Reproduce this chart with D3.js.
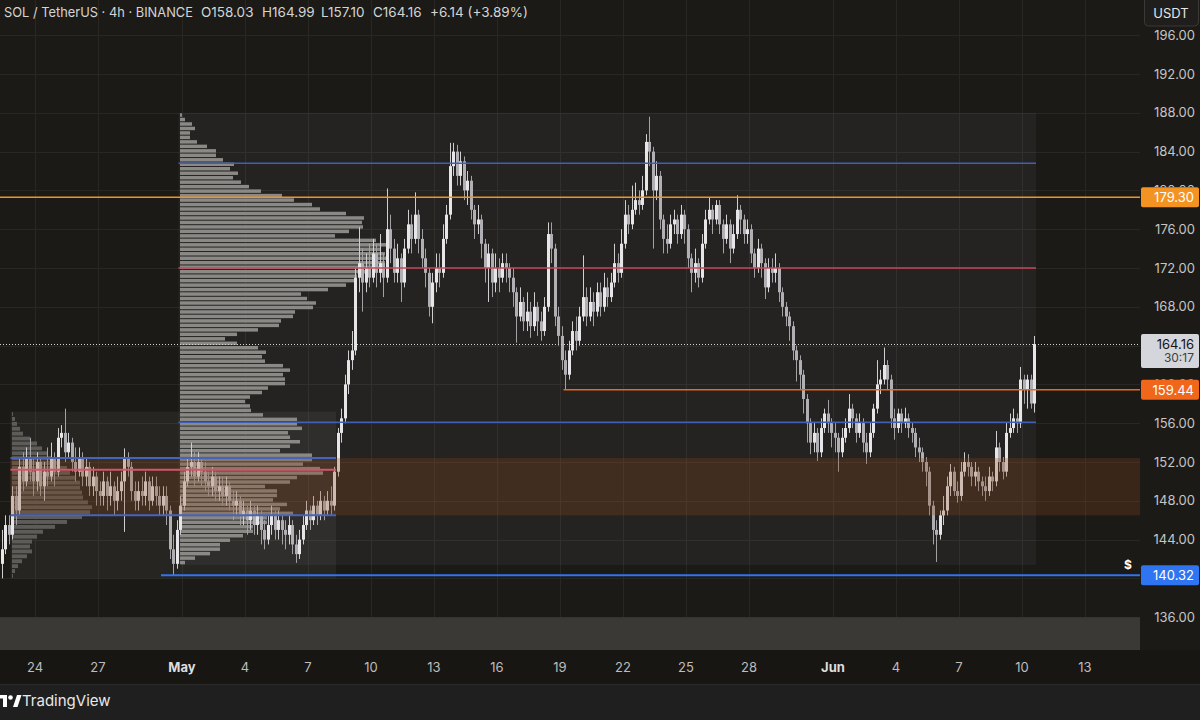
<!DOCTYPE html>
<html><head><meta charset="utf-8">
<script src="https://cdn.jsdelivr.net/npm/d3@7"></script>
<style>
html,body{margin:0;padding:0;background:#1b1a17;}
svg{display:block;font-family:Inter,"Noto Sans",sans-serif;}
</style></head><body>
<svg id="c" width="1200" height="720"></svg>
<script>
// ---------------- DATA ----------------
const titleText = "SOL / TetherUS · 4h · BINANCE";
const ohlcTexts = ["O158.03", "H164.99", "L157.10", "C164.16", "+6.14 (+3.89%)"];
const firstBarTime = "2025-04-22T08:00:00Z";   // 4h bars
const firstOpen = 141.5;
const closes = [
143,145.5,144.5,148.5,147,151.5,150,152.5,151,150,
152,149.5,151,150.5,152.5,151,154.5,155,153,154,
152,151,152.5,150.5,151.5,149.5,150.5,149,148.5,150,
148.5,149.5,148,149,150,152.5,151.5,149,148,149,
148.5,150,148,149.5,148.5,147.5,148.5,147,143,141.5,
145,147.5,150,151.5,152,150.5,152,151,150,149.5,
150.5,149,149.5,148.5,149.5,148,147.5,148,146.5,147,
146,147,145.5,146.5,145,144,145.5,146.5,145,146,
145,144.5,145.5,143.5,142.5,144,145.5,147,146,147.5,
146.5,148,147,148,147.5,151,155,156.5,160,162.5,
163.5,171,172.5,170.5,172,171,173.5,171.5,172.5,171,
176,174,171.5,173,170.5,174,176.5,175,177.5,175,
173,171.5,168,170.5,172,171.5,175,177.5,182.5,184,
181.5,183,180,181,178,176.5,177,174.5,172,173.5,
170.5,172,171,172.5,172,171,169.5,167,168.5,166.5,
167.5,166,168,166.5,165.5,168,175.5,174,167,165,
162.5,161,163.5,165.5,164.5,167,169,167,168.5,167.5,
169.5,168,170,169,170.5,172.5,171.5,174.5,177.5,176.5,
178,179,178.5,180,185,184,180,181.5,177,175,
174.5,176.5,177,175.5,177.5,176,173,171.5,172.5,171,
174.5,177,178,177,178.5,176.5,175,176.5,174,175.5,
178,177,175.5,176,173.5,172,174,172.5,170,172,
171.5,172,169.5,168,167,166,163.5,162.5,161,158.5,
156,154,155,153,155.5,157,156,155,154.5,153,
154.5,155.5,157.5,156.5,155,156,154,153,155,157.5,
160,160.5,162,160.5,156.5,155.5,157,156,156.5,155.5,
155,153.5,153,152,151,147.5,145,144.5,146.5,147,
149.5,151,149,148.5,151,152,151.5,150.5,151,150,
149.5,149,150.5,150,153.5,152,151,155,155.5,156.5,
156,160.5,159.5,160.5,158.03,164.16];
const highs = [
145,146.5,146.5,149.5,149.5,152.5,153,153.5,154.5,152.5,
153,152.5,152,153.5,154,153,155.5,155.8,157.5,155,
154.5,153.5,153.5,153,152.5,152,151.5,151,150,151,
150.5,151,150,150.5,151,153.4,153,152,150,150,
150.5,151,150.5,150.5,150.5,149.5,149.5,149.5,147.5,144.5,
146,148.5,151,152.5,154,153,153,152.5,152,151,
151.5,151,150.5,150.5,150.5,150,149,149,148.5,148,
147.5,148,147.5,147.5,147,146,146.5,147.5,147,147,
146.5,146,146.5,146,144.5,145,146.5,148,147.5,148.5,
148,149,148.5,149,149.5,151.5,155.5,157.5,161,163.5,
165.5,172,176.2,174,173.5,174.5,175,174.5,175.5,173.5,
180.2,177.5,175,174.5,173.5,175,178,177.5,179.8,178,
176,174,172,171.5,173.5,173.5,176.5,178.5,184.9,184.9,
184.7,184,183.5,182,181.5,178.5,178.5,177.5,175,174.5,
174,173.5,173,173.5,173.5,172.5,172,170,170,169,
169.5,168.5,169.5,168.5,167.5,169,176.7,176.7,174.5,168,
166,163.5,164.5,166.5,167,168,173.3,170,170,169.5,
170.5,170.5,171.5,171,171.5,174.5,173.5,176,179,178.5,
180.5,180.8,180,181.5,185.8,187.6,184.5,183,182,177.5,
176.5,177.5,178,177.5,178.5,178,176.5,173.5,174,173,
175.5,178,179.3,178.5,179,179,177,177.5,177,176.5,
179.5,178.5,177.5,177,176.5,174,175,174.5,173,173,
173,173.5,172.5,170,168.5,167.5,166.5,164,163,161.5,
159,156.5,156,155.5,156.5,157.5,158.4,156.5,156,155,
155.5,156.5,159,158,157,157,156.5,155,156,158,
162.5,161.5,163.8,162.5,161,157.5,157.5,157.5,157.6,157,
156,155.5,154.5,153.5,152.5,151.5,148,146,147,148.5,
150.5,151.8,151.5,150,152,153,152.8,152,152,151.5,
150.5,150.5,151.5,151,155.2,154,152.5,156,157,157.5,
157,161.8,161,161,161,164.99];
const lows = [
140,142.5,143.5,144,145.5,146.5,149,149.5,150,148.5,
149,148.5,148,149.5,150,149.5,150.5,153.5,152,152.5,
151,150,150.5,149.5,149.5,148.5,148.5,147.5,147.5,147.5,
147,147.5,146.5,147,148,144.8,150.5,148,147,147,
147.5,147.5,147,147.5,147.5,146.5,146.5,145.5,142,140.32,
141,144.5,147,149.5,150.5,149.5,150,149.5,149,148.5,
148.5,148,148,147.5,147.5,147,146,146.5,145.5,145.5,
144.5,145,144.5,144.5,143.5,143,143.5,144.5,144,144,
143.5,143,143.5,142.5,141.6,142,143.5,145,145,145.5,
145.5,146,146,146.5,146.5,147,150.5,154,156,159,
161.5,163,169.5,167.5,169.5,170,170.5,170,170.5,169,
170.5,172.5,170.5,170.5,168.5,170,173.5,173.5,174.5,173.5,
172,170,167,166.3,169.5,170,171,174.5,177,181.5,
180.5,180.5,179,178.5,177,175,175.5,173,170.5,168.5,
169,169.5,169.5,170.5,170.5,169.5,168,164.3,166.5,165.5,
165.5,164.8,165.5,165,164.5,165,167.5,172.5,166,164,
161.5,159.44,160.5,163,163.5,164,166.5,166,166.5,166,
167,167,167.5,168,168.5,170,170.5,171,174,175.5,
176,177.5,177.5,178,179.5,182.5,174,179,176,173.5,
173.5,174,175.5,174.5,175,174.5,172,169.5,170.5,170,
170.5,174,176.5,175.5,176.5,175.5,173.5,174.5,172.5,173.5,
175,175.5,174.5,174.5,172.5,171,171.5,171,168.8,169.5,
170.5,170.5,168.5,167,166,164.5,162.5,160.3,159.5,157,
154,152.8,153,152.1,152.5,155,155,153.5,153,151,
152.5,154,155,155.5,154,154.5,153,151.8,152.5,154.5,
157,159,160,159.5,155.5,154.3,155,155,155.5,154.5,
154,152.5,152,151,149.5,146.5,143.5,141.7,144,145.5,
146.5,148.5,148.5,147.8,148,150.5,150.5,149.5,149.5,149,
148.5,148,148.5,149,149.5,151,150.2,150.5,154.5,155,
155,155.5,158,157.5,157.5,157.10];

const priceTicks = [136,140,144,148,152,156,160,164,168,172,176,180,184,188,192,196];
const dateTicks = ["2025-04-24","2025-04-27","2025-05-01","2025-05-04","2025-05-07","2025-05-10","2025-05-13","2025-05-16","2025-05-19","2025-05-22","2025-05-25","2025-05-28","2025-06-01","2025-06-04","2025-06-07","2025-06-10","2025-06-13"];
const dateTickLabels = ["24","27","May","4","7","10","13","16","19","22","25","28","Jun","4","7","10","13"];
const monthLabels = ["May","Jun"];

// volume profile (relative volume per price row, top row first)
const mainVP = [2,5,12,15,10,10,17,27,36,36,43,54,50,58,53,61,69,81,102,114,
132,140,166,184,182,183,169,155,196,207,200,205,207,205,200,190,177,177,166,148,
121,127,136,133,115,113,101,99,78,57,45,57,78,86,82,85,103,110,103,105,
105,88,82,70,65,70,71,83,117,117,122,108,110,120,110,100,132,132,123,140,
143,117,110,85,97,97,93,107,100,113,87,87,73,73,63,50,40,40,30,15,5];
const mainVPPrice = [141.4, 188.0];
const mainVPTime = ["2025-04-30T20:00:00Z", "2025-06-10T16:00:00Z"];
const mainVPLevels = [182.8, 172.0, 156.1];       // VAH, POC, VAL
const leftVP = [1,3,5,8,11,18,25,30,35,40,46,55,58,63,68,68,70,71,76,80,
78,70,55,43,31,25,20,18,20,15,10,6,3,1];
const leftVPPrice = [140.0, 157.2];
const leftVPTime = ["2025-04-22T20:00:00Z", "2025-05-08T08:00:00Z"];
const leftVPLevels = [152.4, 151.2, 146.5];       // VAH, POC, VAL
const valueZone = [146.5, 152.4];

const levelPrices = [179.30, 159.44, 140.32];
const levelStarts = [null, "2025-05-19T04:00:00Z", "2025-04-30T00:00:00Z"];
const levelColors = ["#f39321", "#f0661a", "#2f74f0"];
const lastPrice = 164.16;
const countdown = "30:17";
const currencyLabel = "USDT";

// ---------------- DRAW ----------------
const W = 1200, H = 720, plotR = 1140;
const svg = d3.select("#c");
const bg = "#1b1a17";
svg.append("rect").attr("width", W).attr("height", H).attr("fill", bg);

const x = d3.scaleUtc()
  .domain([new Date("2025-04-24T00:00:00Z"), new Date("2025-06-13T00:00:00Z")])
  .range([35, 1085]);
const y = d3.scaleLinear().domain([136, 196]).range([617.2, 35.2]);

const defs = svg.append("defs");
defs.append("clipPath").attr("id", "clipP").append("rect").attr("x", 0).attr("y", 0).attr("width", plotR).attr("height", 650);
const plot = svg.append("g");

// grid
const grid = plot.append("g").attr("stroke", "#292724").attr("stroke-width", 1);
priceTicks.forEach(p => grid.append("line").attr("x1", 0).attr("x2", plotR)
  .attr("y1", Math.round(y(p)) + 0.5).attr("y2", Math.round(y(p)) + 0.5));
dateTicks.forEach(d => grid.append("line").attr("y1", 0).attr("y2", 650)
  .attr("x1", Math.round(x(new Date(d + "T00:00:00Z"))) + 0.5).attr("x2", Math.round(x(new Date(d + "T00:00:00Z"))) + 0.5));

// VP boxes
function vpBox(times, prices, fill) {
  const x0 = x(new Date(times[0])), x1 = x(new Date(times[1]));
  plot.append("rect").attr("x", x0).attr("width", x1 - x0)
    .attr("y", y(prices[1])).attr("height", y(prices[0]) - y(prices[1]))
    .attr("fill", fill);
}
vpBox(mainVPTime, mainVPPrice, "rgba(255,255,255,0.045)");
vpBox(leftVPTime, leftVPPrice, "rgba(255,255,255,0.05)");

// bottom band
plot.append("rect").attr("x", 0).attr("width", plotR).attr("y", y(136)).attr("height", 650 - y(136)).attr("fill", "#3a3935");

function drawVP(vols, prices, times, maxW, fill, startOff) {
  const n = vols.length;
  const step = (prices[1] - prices[0]) / n;
  const xv = d3.scaleLinear().domain([0, d3.max(vols)]).range([0, maxW]);
  const x0 = x(new Date(times[0])) + startOff;
  plot.append("g").selectAll("rect").data(vols).join("rect")
    .attr("x", x0)
    .attr("y", (v, i) => y(prices[1] - i * step) + 0.5)
    .attr("height", (v, i) => Math.max(1, y(prices[1] - (i + 1) * step) - y(prices[1] - i * step) - 1))
    .attr("width", v => xv(v))
    .attr("fill", fill);
}
drawVP(mainVP, mainVPPrice, mainVPTime, 207, "#8a8986", 1.5);
drawVP(leftVP, leftVPPrice, leftVPTime, 80, "#5d5c58", 1.5);

// candles
const t0 = new Date(firstBarTime).getTime();
const bars = closes.map((c, i) => ({
  t: new Date(t0 + i * 4 * 3600e3 + 2 * 3600e3),
  o: i === 0 ? firstOpen : closes[i - 1], h: highs[i], l: lows[i], c
}));
const cg = plot.append("g").attr("clip-path", "url(#clipP)");
cg.selectAll("line").data(bars).join("line")
  .attr("x1", d => Math.round(x(d.t)) + 0.5).attr("x2", d => Math.round(x(d.t)) + 0.5)
  .attr("y1", d => y(d.h)).attr("y2", d => y(d.l))
  .attr("stroke", d => d.c >= d.o ? "#cfcfd2" : "#a2a2a5").attr("stroke-width", 1);
cg.selectAll("rect").data(bars).join("rect")
  .attr("x", d => Math.round(x(d.t)) - 1).attr("width", 3)
  .attr("y", d => y(Math.max(d.o, d.c)))
  .attr("height", d => Math.max(1, Math.abs(y(d.o) - y(d.c))))
  .attr("fill", d => d.c >= d.o ? "#e6e6e9" : "#b0b0b4");

// value zone (brown) extended right
const vzX0 = x(new Date(leftVPTime[0]));
plot.append("rect").attr("x", vzX0).attr("width", plotR - vzX0)
  .attr("y", y(valueZone[1])).attr("height", y(valueZone[0]) - y(valueZone[1]))
  .attr("fill", "rgba(140,72,30,0.28)");

// VP level lines
function vpLines(levels, times, colors, widths) {
  const x0 = x(new Date(times[0])), x1 = x(new Date(times[1]));
  levels.forEach((p, i) => plot.append("line").attr("x1", x0).attr("x2", x1)
    .attr("y1", y(p)).attr("y2", y(p)).attr("stroke", colors[i]).attr("stroke-width", widths[i]));
}
vpLines(mainVPLevels, mainVPTime, ["#3f60b4", "#c8475a", "#3f60b4"], [1.6, 1.6, 1.6]);
vpLines(leftVPLevels, leftVPTime, ["#4565bd", "#d4566a", "#4565bd"], [2, 2, 2]);

// horizontal levels
levelPrices.forEach((p, i) => {
  const xs = levelStarts[i] ? x(new Date(levelStarts[i])) : 0;
  plot.append("line").attr("x1", xs).attr("x2", plotR).attr("y1", y(p)).attr("y2", y(p))
    .attr("stroke", levelColors[i]).attr("stroke-width", i === 2 ? 2 : 1.5);
});

// last price dotted
plot.append("line").attr("x1", 0).attr("x2", plotR).attr("y1", Math.round(y(lastPrice)) + 0.5).attr("y2", Math.round(y(lastPrice)) + 0.5)
  .attr("stroke", "#d6d6d6").attr("stroke-width", 1).attr("stroke-dasharray", "1,2");

// $ marker
plot.append("text").attr("x", 1128).attr("y", y(levelPrices[2]) - 6).attr("text-anchor", "middle")
  .attr("fill", "#ffffff").attr("font-size", 12).attr("font-weight", 700).text("$");

// ---------- price axis ----------
const ax = svg.append("g");
// label boxes occupy these vertical spans; tick labels are clipped to stay visible only outside them
const boxSpans = levelPrices.map(p => [y(p) - 10, y(p) + 10]).concat([[y(lastPrice) - 10, y(lastPrice) + 24]]);
priceTicks.forEach((p, i) => {
  const ty = y(p);
  const covering = boxSpans.find(s => ty + 6 > s[0] && ty - 6 < s[1]);
  if (covering && ty - 6 >= covering[0] - 1) return;           // fully hidden behind a label box
  const g = ax.append("g");
  if (covering) {
    const id = "tc" + i;
    defs.append("clipPath").attr("id", id).append("rect")
      .attr("x", 1140).attr("y", ty - 10).attr("width", 60).attr("height", covering[0] - (ty - 10));
    g.attr("clip-path", `url(#${id})`);
  }
  g.append("text").attr("x", 1195).attr("y", ty).attr("dy", "0.35em")
    .attr("text-anchor", "end").attr("fill", "#c5c5c5").attr("font-size", 13).text(d3.format(".2f")(p));
});

// price label boxes
levelPrices.forEach((p, i) => {
  ax.append("rect").attr("x", 1141).attr("y", y(p) - 10).attr("width", 58).attr("height", 20)
    .attr("rx", 2).attr("fill", levelColors[i]);
  ax.append("text").attr("x", 1194).attr("y", y(p)).attr("dy", "0.36em").attr("text-anchor", "end")
    .attr("fill", "#ffffff").attr("font-size", 13).text(d3.format(".2f")(p));
});
ax.append("rect").attr("x", 1141).attr("y", y(lastPrice) - 10).attr("width", 58).attr("height", 34)
  .attr("rx", 2).attr("fill", "#d4d6dc");
ax.append("text").attr("x", 1194).attr("y", y(lastPrice)).attr("dy", "0.36em").attr("text-anchor", "end")
  .attr("fill", "#131313").attr("font-size", 13).text(d3.format(".2f")(lastPrice));
ax.append("text").attr("x", 1194).attr("y", y(lastPrice) + 14).attr("dy", "0.36em").attr("text-anchor", "end")
  .attr("fill", "#404040").attr("font-size", 12).text(countdown);

// USDT box
ax.append("rect").attr("x", 1144.5).attr("y", -4).attr("width", 54).attr("height", 30).attr("rx", 4)
  .attr("fill", "#1f1e1c").attr("stroke", "#3a3936");
ax.append("text").attr("x", 1171).attr("y", 13).attr("dy", "0.35em").attr("text-anchor", "middle")
  .attr("fill", "#e6e6e6").attr("font-size", 13).text(currencyLabel);

// ---------- time axis ----------
svg.append("rect").attr("x", 0).attr("y", 650).attr("width", W).attr("height", 34).attr("fill", "#181613");
dateTicks.forEach((d, i) => {
  const lab = dateTickLabels[i];
  const isMonth = monthLabels.includes(lab);
  svg.append("text").attr("x", x(new Date(d + "T00:00:00Z"))).attr("y", 667).attr("dy", "0.35em")
    .attr("text-anchor", "middle").attr("fill", isMonth ? "#dedede" : "#bdbdbd")
    .attr("font-size", 13).attr("font-weight", isMonth ? 700 : 400).text(lab);
});

// bottom bar
svg.append("rect").attr("x", 0).attr("y", 684).attr("width", W).attr("height", 36).attr("fill", "#1f1f1f");
svg.append("line").attr("x1", 0).attr("x2", W).attr("y1", 684.5).attr("y2", 684.5).attr("stroke", "#2a2a2a");
const logo = svg.append("g").attr("fill", "#ffffff");
logo.append("rect").attr("x", -1).attr("y", 695).attr("width", 8).attr("height", 3.5);
logo.append("rect").attr("x", 3).attr("y", 695).attr("width", 4).attr("height", 12);
logo.append("circle").attr("cx", 10.5).attr("cy", 697.5).attr("r", 2.3);
logo.append("polygon").attr("points", "13,707 17,695 21.5,695 17.5,707");
svg.append("text").attr("x", 22).attr("y", 701).attr("dy", "0.35em").attr("fill", "#e8e8e8")
  .attr("font-size", 15).text("TradingView");

// ---------- header ----------
const hdr = svg.append("g").attr("font-size", 13.5).attr("fill", "#d4d4d4");
hdr.append("text").attr("x", 4).attr("y", 12).attr("dy", "0.35em")
  .attr("textLength", 189).attr("lengthAdjust", "spacingAndGlyphs").text(titleText);
const ohlcX = [201, 262, 321, 373, 430];
ohlcTexts.forEach((t, i) => hdr.append("text").attr("x", ohlcX[i]).attr("y", 12).attr("dy", "0.35em").text(t));
</script>
</body></html>
